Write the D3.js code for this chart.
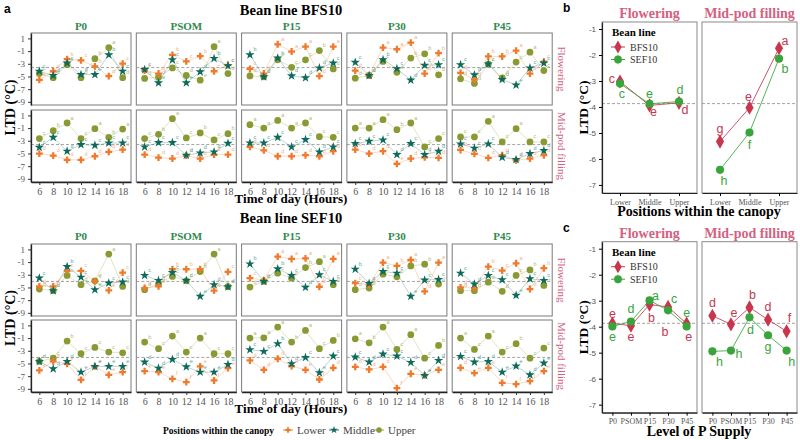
<!DOCTYPE html>
<html><head><meta charset="utf-8">
<script src="https://cdn.jsdelivr.net/npm/d3@7"></script>
<style>body{margin:0;background:#fff}</style>
</head><body><svg id="c" width="800" height="440"></svg>
<script>
// ---------------- DATA ----------------
const times = [6, 8, 10, 12, 14, 16, 18];
const pLevels = ["P0", "PSOM", "P15", "P30", "P45"];
const positions = ["Lower", "Middle", "Upper"];
const stages = ["Flowering", "Mid-pod filling"];
const beanLines = ["BFS10", "SEF10"];
const yTicksA = [1, -1, -3, -5, -7, -9];
const yTicksBC = [-1, -2, -3, -4, -5, -6, -7];

// rows: P0, PSOM, P15, P30, P45 ; columns: times
const bfsFlowLower = [
  [-5.53,-4.18,-2.26,-2.47,-3.40,-4.96,-2.99],
  [-4.08,-4.54,-1.59,-2.63,-1.80,-4.18,-3.20],
  [-3.82,-4.54,0.07,-1.07,-0.30,-4.96,-0.30],
  [-4.08,-4.85,-0.45,-0.71,0.33,-4.54,-1.33],
  [-4.44,-5.48,-1.85,-1.85,-0.92,-4.54,-2.68]];
const bfsFlowMiddle = [
  [-4.18,-4.85,-2.89,-4.70,-4.70,-1.59,-4.18],
  [-3.92,-6.00,-2.37,-6.00,-4.28,-2.16,-3.30],
  [-1.59,-5.06,-2.11,-4.91,-5.22,-3.66,-2.89],
  [-2.78,-4.85,-2.37,-3.77,-5.58,-3.25,-3.15],
  [-3.15,-4.75,-3.04,-5.48,-6.36,-3.66,-2.89]];
const bfsFlowUpper = [
  [-4.54,-5.20,-3.15,-5.20,-2.20,-0.45,-5.20],
  [-5.32,-5.11,-3.66,-4.85,-5.58,-0.30,-4.54],
  [-4.91,-5.06,-2.37,-3.56,-2.37,-0.92,-3.82],
  [-5.27,-4.85,-2.63,-4.34,-2.11,-1.44,-4.75],
  [-5.37,-6.10,-3.04,-5.22,-2.73,-1.18,-4.08]];
const bfsPodLower = [
  [-5.02,-5.34,-6.00,-6.00,-5.44,-4.76,-4.39],
  [-5.18,-5.65,-5.80,-5.34,-5.80,-5.18,-5.18],
  [-3.97,-4.50,-5.44,-5.44,-5.28,-5.44,-4.65],
  [-4.39,-5.02,-4.65,-6.64,-5.80,-5.60,-5.70],
  [-4.45,-5.07,-5.70,-5.28,-6.07,-5.80,-5.28]];
const bfsPodMiddle = [
  [-4.03,-2.46,-4.65,-3.60,-3.71,-3.35,-3.35],
  [-3.97,-3.29,-3.29,-5.28,-4.92,-4.76,-3.40],
  [-3.35,-3.35,-2.46,-3.97,-2.82,-4.76,-3.97],
  [-3.45,-3.08,-2.87,-5.18,-3.45,-5.18,-4.65],
  [-3.50,-4.18,-3.50,-5.60,-5.96,-5.02,-4.55]];
const bfsPodUpper = [
  [-2.66,-1.41,-0.20,-2.66,-1.09,-2.46,-1.15],
  [-2.66,-1.98,0.48,-2.56,-1.77,-2.87,-1.88],
  [-0.47,-0.99,0.21,-0.99,-0.20,-2.35,-2.46],
  [-0.99,-0.99,0.32,-1.25,-0.20,-3.97,-2.66],
  [-2.40,-2.40,0.06,-3.19,-1.09,-3.19,-3.19]];
const sefFlowLower = [
  [-4.83,-4.83,-2.39,-2.39,-4.05,-5.46,-2.65],
  [-5.09,-4.83,-2.13,-2.13,-2.13,-5.51,-2.54],
  [-3.53,-3.84,-0.15,-0.51,-0.41,-4.89,-0.51],
  [-4.31,-4.57,-1.08,-1.60,-0.67,-5.61,-1.08],
  [-4.99,-5.09,-1.71,-2.33,-1.19,-5.25,-1.97]];
const sefFlowMiddle = [
  [-3.53,-5.51,-1.71,-3.38,-5.35,-4.31,-4.16],
  [-3.11,-3.90,-2.65,-3.90,-6.40,-4.57,-4.89],
  [-1.29,-4.05,-2.07,-3.11,-4.99,-3.01,-4.05],
  [-2.13,-4.36,-2.49,-2.75,-6.40,-3.84,-3.74],
  [-2.75,-4.47,-3.11,-3.79,-6.24,-3.63,-3.90]];
const sefFlowUpper = [
  [-5.25,-5.51,-3.11,-4.57,-3.95,0.27,-4.83],
  [-5.35,-4.42,-3.27,-3.95,-2.49,0.27,-4.89],
  [-4.94,-4.05,-2.75,-3.53,-1.86,-0.93,-4.57],
  [-5.35,-5.09,-2.91,-3.32,-1.60,-1.34,-4.47],
  [-5.51,-5.51,-4.16,-5.61,-3.11,-2.23,-4.68]];
const sefPodLower = [
  [-6.10,-4.68,-5.05,-7.58,-5.47,-6.79,-6.37],
  [-6.21,-6.37,-7.42,-7.95,-5.47,-7.68,-5.74],
  [-4.53,-6.00,-4.26,-5.42,-6.00,-7.53,-5.68],
  [-5.53,-5.95,-5.53,-8.89,-6.63,-6.89,-6.00],
  [-5.68,-6.53,-5.68,-8.05,-8.26,-7.79,-6.21]];
const sefPodMiddle = [
  [-4.68,-5.84,-4.68,-6.37,-5.47,-5.47,-5.47],
  [-4.79,-5.74,-4.37,-5.53,-6.37,-6.37,-5.16],
  [-2.84,-3.10,-1.89,-5.05,-4.05,-6.47,-3.84],
  [-4.00,-4.79,-3.53,-3.84,-4.84,-6.89,-4.53],
  [-3.89,-4.79,-4.68,-6.37,-5.42,-6.79,-4.95]];
const sefPodUpper = [
  [-4.68,-4.16,-1.47,-3.47,-2.47,-3.21,-3.32],
  [-1.63,-2.68,-0.68,-3.21,-1.00,-3.47,-3.47],
  [-1.00,-0.95,0.74,-1.63,0.21,-2.68,-1.37],
  [-1.11,-1.74,0.74,-2.79,-0.47,-4.16,-2.16],
  [-1.00,-2.79,-0.68,-3.21,-1.89,-4.16,-2.58]];

// significance letters (one string per P level, one char per time)
const bfsFlowLowerLet  = ["edbcbdc","cdbcbcc","cdaaada","ddaaadb","ddbbadc"];
const bfsFlowMiddleLet = ["cdcdebc","cecedbc","bdbdddc","cdbcdcc","cdcdecc"];
const bfsFlowUpperLet  = ["cdcdbad","ddcdead","ddcccbd","ddcdbbd","ddcdcac"];
const bfsPodLowerLet   = ["ddddddd","ddddddd","ddddddd","dddeddd","ddddddd"];
const bfsPodMiddleLet  = ["ccdcccc","cccdddc","cccccdc","cccdcdd","cccdddd"];
const bfsPodUpperLet   = ["cbacaba","cbacbcb","aaaaacc","aaabacc","ccacacc"];
const sefFlowLowerLet  = ["ddccdec","ddbbbdc","ccaaada","cdabada","ddbcadb"];
const sefFlowMiddleLet = ["cdbcecc","ccccedd","bcbcdcc","bcccecc","cdccecc"];
const sefFlowUpperLet  = ["ddcdead","ddcdbad","ddccbad","ddccbbd","ddddcbd"];
const sefPodLowerLet   = ["edefeef","eeffefe","dddeefd","dddfeee","deefffe"];
const sefPodMiddleLet  = ["dddeeee","dddeeed","ccbdcec","cdccded","cddeede"];
const sefPodUpperLet   = ["ccbcccc","bcacacc","aaabacb","abacacb","acacbcc"];

const bfsMeanLTD = -3.6;
const sefMeanLTD = -4.05;

// panel b
const bFlowBFS = [-3.02, -3.94, -3.84];
const bFlowSEF = [-3.10, -3.88, -3.79];
const bPodBFS  = [-5.33, -4.03, -1.74];
const bPodSEF  = [-6.42, -4.98, -2.14];
const bFlowBFSLet = ["c","e","d"], bFlowSEFLet = ["c","e","d"];
const bPodBFSLet  = ["g","e","a"], bPodSEFLet  = ["h","f","b"];
const bFlowBFSErr = [0.12,0.10,0.12], bFlowSEFErr = [0.10,0.08,0.10];
const bPodBFSErr  = [0.15,0.15,0.10], bPodSEFErr  = [0.12,0.15,0.12];
// panel c
const cFlowBFS = [-3.88, -3.96, -3.15, -3.24, -3.88];
const cFlowSEF = [-3.99, -3.80, -2.99, -3.37, -3.99];
const cPodBFS  = [-3.58, -3.91, -3.26, -3.73, -4.18];
const cPodSEF  = [-4.95, -4.92, -3.64, -4.33, -4.92];
const cFlowBFSLet = ["e","e","b","b","e"], cFlowSEFLet = ["e","d","a","c","e"];
const cPodBFSLet  = ["d","e","b","d","f"], cPodSEFLet  = ["h","h","d","g","h"];
const cFlowBFSErr = [0.12,0.12,0.12,0.10,0.12], cFlowSEFErr = [0.10,0.12,0.10,0.10,0.10];
const cPodBFSErr  = [0.15,0.15,0.15,0.15,0.15], cPodSEFErr  = [0.15,0.12,0.12,0.15,0.12];
const grandMeanLTD = -3.87;

// label nudges (px) for panels b and c
const bNudge = {
  flowBFS: [[-8,-3],[4,7],[6,7]], flowSEF: [[2,10],[0,-10],[1,-12]],
  podBFS: [[0,-13],[-1,-11],[6,-7]], podSEF: [[4,11],[0,13],[6,10]]};
const cNudge = {
  flowBFS: [[0,-10],[0,11],[2,13],[-3,25],[2,13]], flowSEF: [[0,11],[0,-12],[6,-4],[6,-11],[0,-13]],
  podBFS: [[0,-13],[3,-11],[3,-12],[0,-13],[3,-13]], podSEF: [[7,11],[8,3],[1,13],[0,12],[5,11]]};

// ---------------- DRAW ----------------
const svg = d3.select("#c");
const serif = "'Liberation Serif','Times New Roman',serif";
const sans = "'Liberation Sans',Arial,sans-serif";
const posColor = {Lower:"#f07a2c", Middle:"#0e6b5c", Upper:"#8a9a33"};
const letColor = {Lower:"#f5b08c", Middle:"#5aa9a2", Upper:"#b3b97c"};
const posSymbol = {Lower:d3.symbolCross, Middle:d3.symbolStar, Upper:d3.symbolCircle};
const posSize = {Lower:26, Middle:27, Upper:36};
const lineColor = {BFS10:"#c8364e", SEF10:"#3aa43c"};
const stripPink = "#d4617f";

// panel letters
svg.append("text").attr("x",4).attr("y",13).text("a").attr("font-family",sans).attr("font-weight","bold").attr("font-size",12);
svg.append("text").attr("x",563).attr("y",12).text("b").attr("font-family",sans).attr("font-weight","bold").attr("font-size",12);
svg.append("text").attr("x",563).attr("y",232).text("c").attr("font-family",sans).attr("font-weight","bold").attr("font-size",12);

const panelW = 100, panelH = 72;
const colX = i => 31 + i * 105.3;
const xA = d3.scaleLinear().domain([4.8, 19.2]).range([0, panelW]);
const yA = d3.scaleLinear().domain([-9.5, 1.85]).range([panelH, 0]);

const blocks = [
  {line:"BFS10", titleY:15, stripY:30, tops:[33,110], timeY:203, ref:bfsMeanLTD,
   data:[[bfsFlowLower,bfsFlowMiddle,bfsFlowUpper],[bfsPodLower,bfsPodMiddle,bfsPodUpper]],
   lets:[[bfsFlowLowerLet,bfsFlowMiddleLet,bfsFlowUpperLet],[bfsPodLowerLet,bfsPodMiddleLet,bfsPodUpperLet]]},
  {line:"SEF10", titleY:223, stripY:240, tops:[244,320], timeY:413, ref:sefMeanLTD,
   data:[[sefFlowLower,sefFlowMiddle,sefFlowUpper],[sefPodLower,sefPodMiddle,sefPodUpper]],
   lets:[[sefFlowLowerLet,sefFlowMiddleLet,sefFlowUpperLet],[sefPodLowerLet,sefPodMiddleLet,sefPodUpperLet]]}
];

blocks.forEach(b => {
  svg.append("text").attr("x",291).attr("y",b.titleY).attr("text-anchor","middle")
    .attr("font-family",serif).attr("font-weight","bold").attr("font-size",14.5).text("Bean line " + b.line);
  svg.append("text").attr("x",291).attr("y",b.timeY).attr("text-anchor","middle")
    .attr("font-family",serif).attr("font-weight","bold").attr("font-size",13).text("Time of day (Hours)");
  const midY = (b.tops[0] + b.tops[1] + panelH) / 2;
  svg.append("text").attr("transform",`translate(15,${midY}) rotate(-90)`).attr("text-anchor","middle")
    .attr("font-family",serif).attr("font-weight","bold").attr("font-size",14).text("LTD (°C)");
  pLevels.forEach((p, i) => {
    svg.append("text").attr("x",colX(i)+panelW/2).attr("y",b.stripY).attr("text-anchor","middle")
      .attr("font-family",serif).attr("font-weight","bold").attr("font-size",11).attr("fill","#2f8a4c").text(p);
  });
  stages.forEach((s, si) => {
    const top = b.tops[si];
    svg.append("text").attr("transform",`translate(558,${top+panelH/2}) rotate(90)`).attr("text-anchor","middle")
      .attr("font-family",serif).attr("font-size",11).attr("fill",stripPink).text(s);
    pLevels.forEach((p, pi) => {
      const g = svg.append("g").attr("transform",`translate(${colX(pi)},${top})`);
      g.append("rect").attr("width",panelW).attr("height",panelH).attr("fill","#fff").attr("stroke","#7a7a7a").attr("stroke-width",1);
      g.append("line").attr("x1",0).attr("x2",panelW).attr("y1",yA(b.ref)).attr("y2",yA(b.ref))
        .attr("stroke","#8c8c8c").attr("stroke-dasharray","3,2").attr("stroke-width",0.8);
      if (pi === 0) {
        const ax = g.append("g").call(d3.axisLeft(yA).tickValues(yTicksA).tickSize(3).tickSizeOuter(0).tickFormat(d => String(d)));
        ax.select(".domain").attr("stroke","#222").attr("stroke-width",1.3);
        ax.selectAll(".tick line").attr("stroke","#333");
        ax.selectAll("text").attr("font-family",serif).attr("font-size",9).attr("fill","#555");
      }
      if (si === 1) {
        const ax = g.append("g").attr("transform",`translate(0,${panelH})`)
          .call(d3.axisBottom(xA).tickValues(times).tickSize(3).tickSizeOuter(0));
        ax.select(".domain").attr("stroke","#222").attr("stroke-width",1.3);
        ax.selectAll(".tick line").attr("stroke","#333");
        ax.selectAll("text").attr("font-family",serif).attr("font-size",10).attr("fill","#555");
      }
      const series = positions.map((pos, k) => ({pos, vals: b.data[si][k][pi], lets: b.lets[si][k][pi]}));
      const line = d3.line().x((d,j) => xA(times[j])).y(d => yA(d));
      series.forEach(sr => {
        g.append("path").attr("d", line(sr.vals)).attr("fill","none")
          .attr("stroke",posColor[sr.pos]).attr("stroke-opacity",0.35).attr("stroke-width",0.8);
      });
      ["Upper","Lower","Middle"].forEach(pos => {
        const sr = series.find(s => s.pos === pos);
        g.selectAll(null).data(sr.vals).enter().append("path")
          .attr("d", d3.symbol().type(posSymbol[pos]).size(posSize[pos]))
          .attr("transform",(d,j) => `translate(${xA(times[j])},${yA(d)})`)
          .attr("fill",posColor[pos]);
      });
      series.forEach(sr => {
        g.selectAll(null).data(sr.vals).enter().append("text")
          .attr("x",(d,j) => xA(times[j]) + 3.5).attr("y",d => yA(d) - 3.5)
          .attr("font-family",sans).attr("font-size",5.5).attr("fill",letColor[sr.pos])
          .text((d,j) => sr.lets[j]);
      });
    });
  });
});

// bottom legend
{
  const ly = 430;
  svg.append("text").attr("x",163).attr("y",ly+3.5).attr("font-family",serif).attr("font-weight","bold").attr("font-size",9.5).text("Positions within the canopy");
  const items = [["Lower",288],["Middle",334],["Upper",379]];
  items.forEach(([pos,x]) => {
    svg.append("line").attr("x1",x-5).attr("x2",x+5).attr("y1",ly).attr("y2",ly).attr("stroke",posColor[pos]).attr("stroke-width",0.9);
    svg.append("path").attr("d",d3.symbol().type(posSymbol[pos]).size(posSize[pos]*0.7)()).attr("transform",`translate(${x},${ly})`).attr("fill",posColor[pos]);
    svg.append("text").attr("x",x+9).attr("y",ly+4).attr("font-family",serif).attr("font-size",11).attr("fill","#444").text(pos);
  });
}

// panels b and c
function drawSummary(top, cats, padding, series, nudges, xTitle) {
  const H = 171, W = 95, lefts = [602, 702];
  const y = d3.scaleLinear().domain([-0.73, -7.31]).range([0, H]);
  const x = d3.scalePoint().domain(cats).range([0, W]).padding(padding);
  stages.forEach((s, si) => {
    const g = svg.append("g").attr("transform",`translate(${lefts[si]},${top})`);
    svg.append("text").attr("x",lefts[si]+W/2).attr("y",top-4).attr("text-anchor","middle")
      .attr("font-family",serif).attr("font-weight","bold").attr("font-size",14).attr("fill",stripPink).text(s);
    g.append("rect").attr("width",W).attr("height",H).attr("fill","#fff").attr("stroke","#8a8a8a").attr("stroke-width",1);
    g.append("line").attr("x1",0).attr("x2",W).attr("y1",y(grandMeanLTD)).attr("y2",y(grandMeanLTD))
      .attr("stroke","#8c8c8c").attr("stroke-dasharray","3,2").attr("stroke-width",0.8);
    if (si === 0) {
      const ax = g.append("g").call(d3.axisLeft(y).tickValues(yTicksBC).tickSize(3).tickSizeOuter(0).tickFormat(d => String(d)));
      ax.select(".domain").attr("stroke","#222").attr("stroke-width",1.2);
      ax.selectAll("text").attr("font-family",sans).attr("font-size",8).attr("fill","#555");
    }
    const axb = g.append("g").attr("transform",`translate(0,${H})`).call(d3.axisBottom(x).tickSize(3).tickSizeOuter(0));
    axb.select(".domain").attr("stroke","#222").attr("stroke-width",1.2);
    axb.selectAll("text").attr("font-family",serif).attr("font-size",8).attr("fill","#555");
    series[si].forEach(sr => {
      const c = lineColor[sr.line];
      g.append("path").attr("d", d3.line().x((d,j) => x(cats[j])).y(d => y(d))(sr.vals))
        .attr("fill","none").attr("stroke",c).attr("stroke-width",1).attr("stroke-opacity",0.85);
      g.selectAll(null).data(sr.vals).enter().append("line")
        .attr("x1",(d,j)=>x(cats[j])).attr("x2",(d,j)=>x(cats[j]))
        .attr("y1",(d,j)=>y(d+sr.err[j])).attr("y2",(d,j)=>y(d-sr.err[j]))
        .attr("stroke",c).attr("stroke-opacity",0.5).attr("stroke-width",1);
      g.selectAll(null).data(sr.vals).enter().append("path")
        .attr("d", d3.symbol().type(sr.line === "BFS10" ? d3.symbolDiamond : d3.symbolCircle).size(sr.line === "BFS10" ? 58 : 52))
        .attr("transform",(d,j) => `translate(${x(cats[j])},${y(d)})`).attr("fill",c);
    });
    series[si].forEach(sr => {
      const nd = nudges[si][sr.line];
      g.selectAll(null).data(sr.vals).enter().append("text")
        .attr("x",(d,j) => x(cats[j]) + nd[j][0]).attr("y",(d,j) => y(d) + nd[j][1])
        .attr("text-anchor","middle").attr("dominant-baseline","central")
        .attr("font-family",sans).attr("font-size",12.5).attr("fill",lineColor[sr.line]).text((d,j) => sr.lets[j]);
    });
  });
  // y title
  svg.append("text").attr("transform",`translate(588,${top+H/2}) rotate(-90)`).attr("text-anchor","middle")
    .attr("font-family",serif).attr("font-weight","bold").attr("font-size",13.5).text("LTD (°C)");
  svg.append("text").attr("x",699).attr("y",top+H+23).attr("text-anchor","middle")
    .attr("font-family",serif).attr("font-weight","bold").attr("font-size",14).text(xTitle);
  // legend
  const lg = svg.append("g").attr("transform",`translate(0,${top})`);
  lg.append("text").attr("x",612).attr("y",14).attr("font-family",serif).attr("font-weight","bold").attr("font-size",11).text("Bean line");
  beanLines.forEach((bl, k) => {
    const yy = 25 + k*12.5, c = lineColor[bl];
    lg.append("line").attr("x1",611).attr("x2",625).attr("y1",yy).attr("y2",yy).attr("stroke",c).attr("stroke-width",1);
    lg.append("line").attr("x1",618).attr("x2",618).attr("y1",yy-5).attr("y2",yy+5).attr("stroke",c).attr("stroke-opacity",0.5);
    lg.append("path").attr("d",d3.symbol().type(bl === "BFS10" ? d3.symbolDiamond : d3.symbolCircle).size(48)())
      .attr("transform",`translate(618,${yy})`).attr("fill",c);
    lg.append("text").attr("x",630).attr("y",yy+3.5).attr("font-family",serif).attr("font-size",10).attr("fill","#333").text(bl);
  });
}

drawSummary(22, positions, 0.61,
  [[{line:"BFS10",vals:bFlowBFS,lets:bFlowBFSLet,err:bFlowBFSErr},{line:"SEF10",vals:bFlowSEF,lets:bFlowSEFLet,err:bFlowSEFErr}],
   [{line:"BFS10",vals:bPodBFS,lets:bPodBFSLet,err:bPodBFSErr},{line:"SEF10",vals:bPodSEF,lets:bPodSEFLet,err:bPodSEFErr}]],
  [{BFS10:bNudge.flowBFS, SEF10:bNudge.flowSEF},{BFS10:bNudge.podBFS, SEF10:bNudge.podSEF}],
  "Positions within the canopy");

drawSummary(241.7, pLevels, 0.56,
  [[{line:"BFS10",vals:cFlowBFS,lets:cFlowBFSLet,err:cFlowBFSErr},{line:"SEF10",vals:cFlowSEF,lets:cFlowSEFLet,err:cFlowSEFErr}],
   [{line:"BFS10",vals:cPodBFS,lets:cPodBFSLet,err:cPodBFSErr},{line:"SEF10",vals:cPodSEF,lets:cPodSEFLet,err:cPodSEFErr}]],
  [{BFS10:cNudge.flowBFS, SEF10:cNudge.flowSEF},{BFS10:cNudge.podBFS, SEF10:cNudge.podSEF}],
  "Level of P Supply");
</script>
</body></html>
